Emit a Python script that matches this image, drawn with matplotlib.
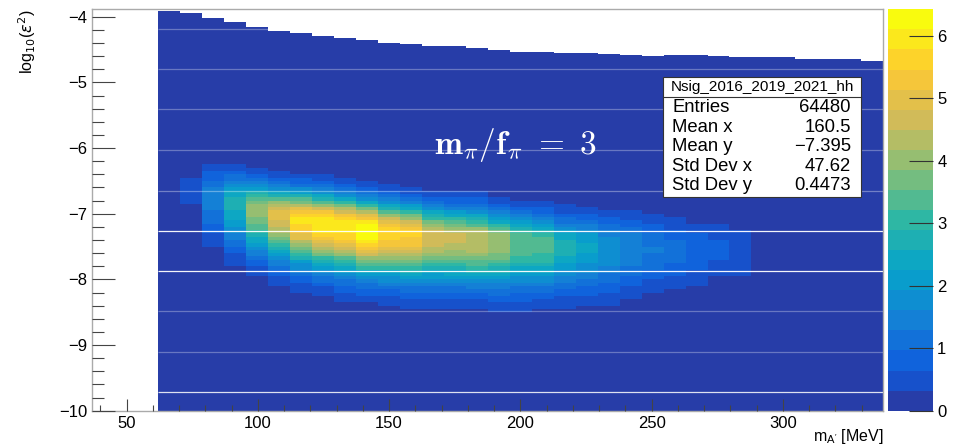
import numpy as np
import matplotlib
matplotlib.use('Agg')
import matplotlib.pyplot as plt
import matplotlib.cm as cm
from matplotlib.colors import ListedColormap, BoundaryNorm
from matplotlib.patches import Rectangle
from matplotlib.lines import Line2D
from matplotlib.ticker import MultipleLocator

plt.rcParams['font.family'] = ['Liberation Sans', 'DejaVu Sans']

# -------------------------------------------------------------
# binning of the histogram (36 x bins, first 3 empty)
# -------------------------------------------------------------
x_lo, x_hi = 36.9, 338.3
n_xbins = 36
first_filled = 3
y_lo, y_hi = -10.0, -3.887
y_step = 0.05

# upper edge of the filled region, one value per filled x bin
top_edge = [-3.91, -3.95, -4.02, -4.08, -4.16, -4.22, -4.25, -4.29, -4.33, -4.36,
            -4.40, -4.42, -4.44, -4.45, -4.48, -4.51, -4.53, -4.54, -4.56, -4.56,
            -4.57, -4.58, -4.60, -4.59, -4.59, -4.60, -4.61, -4.61, -4.62, -4.65,
            -4.64, -4.65, -4.68]

# signal blob, per filled x bin (index into the filled bins)
blob_cols = list(range(1, 27))
blob_upper = [-6.47, -6.23, -6.24, -6.29, -6.35, -6.38, -6.42, -6.45, -6.50, -6.56,
              -6.59, -6.64, -6.67, -6.66, -6.74, -6.79, -6.80, -6.87, -6.89, -6.94,
              -6.96, -7.02, -7.07, -7.14, -7.17, -7.26]
blob_peak_y = [-6.65, -6.75, -6.82, -6.95, -7.02, -7.10, -7.15, -7.18, -7.25, -7.28,
               -7.30, -7.35, -7.36, -7.40, -7.42, -7.45, -7.46, -7.50, -7.50, -7.52,
               -7.52, -7.53, -7.54, -7.55, -7.55, -7.58]
blob_lower = [-6.83, -7.52, -7.78, -7.96, -8.10, -8.19, -8.26, -8.34, -8.37, -8.41,
              -8.43, -8.43, -8.45, -8.47, -8.49, -8.49, -8.47, -8.43, -8.41, -8.38,
              -8.31, -8.19, -8.13, -8.08, -7.96, -7.96]
blob_peak = [0.55, 1.45, 2.7, 4.0, 4.9, 5.8, 6.1, 6.0, 6.35, 5.7,
             5.5, 4.8, 4.6, 4.5, 4.1, 3.5, 3.4, 2.7, 2.3, 1.9,
             1.6, 1.3, 1.1, 0.9, 0.7, 0.6]

z_max = 6.42
n_levels = 20

seam_y = [-4.19, -4.79, -5.41, -6.03, -6.65, -7.26, -7.87, -8.48, -9.10, -9.71]
seam_alpha = [0.3, 0.3, 0.3, 0.3, 0.35, 0.95, 0.95, 0.3, 0.3, 0.85]

stat_title = 'Nsig_2016_2019_2021_hh'
stat_labels = ['Entries', 'Mean x', 'Mean y', 'Std Dev x', 'Std Dev y']
stat_values = ['64480', '160.5', '\u22127.395', '47.62', '0.4473']

# -------------------------------------------------------------
# kBird palette, 20 contour levels like ROOT
# -------------------------------------------------------------
bird_stops = [0.0, 0.125, 0.25, 0.375, 0.5, 0.625, 0.75, 0.875, 1.0]
bird_r = [0.2082, 0.0592, 0.0780, 0.0232, 0.1802, 0.5301, 0.8186, 0.9956, 0.9764]
bird_g = [0.1664, 0.3599, 0.5041, 0.6419, 0.7178, 0.7492, 0.7328, 0.7862, 0.9832]
bird_b = [0.5293, 0.8684, 0.8385, 0.7914, 0.6425, 0.4662, 0.3499, 0.1968, 0.0539]

cores = []
for i in range(n_levels):
    f = min(int((i + 0.99) * 255 / n_levels), 254) / 254
    cores.append((np.interp(f, bird_stops, bird_r),
                  np.interp(f, bird_stops, bird_g),
                  np.interp(f, bird_stops, bird_b)))
cmap = ListedColormap(cores)
levels = np.linspace(0, z_max, n_levels + 1)
norm = BoundaryNorm(levels, cmap.N)
thr = levels[1]

# -------------------------------------------------------------
# build the cell grid
# -------------------------------------------------------------
x_edges = np.linspace(x_lo, x_hi, n_xbins + 1)[first_filled:]
n_y = int(round((-3.85 - y_lo) / y_step))
y_edges = y_lo + np.arange(n_y + 1) * y_step
y_cent = 0.5 * (y_edges[:-1] + y_edges[1:])

Z = np.full((n_y, len(top_edge)), np.nan)
for k, c in enumerate(blob_cols):
    yc, P = blob_peak_y[k], blob_peak[k]
    w = np.sqrt(2 * np.log(P / thr))
    s_up = (blob_upper[k] - yc) / w
    s_lo = (yc - blob_lower[k]) / w
    s = np.where(y_cent > yc, s_up, s_lo)
    Z[:, c] = P * np.exp(-0.5 * ((y_cent - yc) / s) ** 2)
Z = np.ma.masked_where(~(Z >= thr), Z)

# -------------------------------------------------------------
# figure
# -------------------------------------------------------------
W, H = 964, 447
fig = plt.figure(figsize=(W / 100, H / 100), dpi=100)
ax = fig.add_axes([92.3 / W, 1 - 410.7 / H, (883.3 - 92.3) / W, (410.7 - 9.3) / H])

ax.fill_between(x_edges, np.full(len(x_edges), y_lo), list(top_edge) + [top_edge[-1]],
                step='post', color=cores[0], lw=0, zorder=0.5)
ax.pcolormesh(x_edges, y_edges, Z, cmap=cmap, norm=norm, shading='flat',
              antialiased=False, zorder=0.6)

for ys, a in zip(seam_y, seam_alpha):
    k = 0
    while k < len(top_edge) and top_edge[k] > ys:
        k += 1
    ax.hlines(ys, x_edges[0], x_edges[k], colors='white', alpha=a, lw=0.9, zorder=0.7)

ax.text(198.2, -6.09, r'$\mathbf{m_{\pi}/f_{\pi}}\ \mathbf{=}\ \mathbf{3}$', color='white',
        fontsize=24, ha='center', va='baseline', math_fontfamily='cm', zorder=3)

ax.set_xlim(x_lo, x_hi)
ax.set_ylim(y_lo, y_hi)
ax.set_axisbelow(False)
ax.xaxis.set_major_locator(MultipleLocator(50))
ax.xaxis.set_minor_locator(MultipleLocator(10))
ax.yaxis.set_major_locator(MultipleLocator(1))
ax.yaxis.set_minor_locator(MultipleLocator(0.2))
ax.tick_params(axis='x', which='major', direction='in', length=8.6, width=0.8,
               color='#444444', labelsize=12, pad=4)
ax.tick_params(axis='x', which='minor', direction='in', length=4.3, width=0.8, color='#444444')
ax.tick_params(axis='y', which='major', direction='in', length=16.6, width=0.8,
               color='#444444', labelsize=12, pad=3.6)
ax.tick_params(axis='y', which='minor', direction='in', length=8.6, width=0.8, color='#444444')
for sp in ax.spines.values():
    sp.set_color('#aaaaaa')
    sp.set_linewidth(1.0)

fig.text(27 / W, 1 - 9.5 / H, r'log$_{10}$($\epsilon^{2}$)', rotation=90,
         ha='center', va='top', fontsize=11.5)
fig.text(883.3 / W, 1 - 441 / H, r"m$_{\mathregular{A'}}$ [MeV]", ha='right',
         va='baseline', fontsize=11.5)

# stats box
bx0, bx1, by0, by1 = 663.3, 861.0, 76.7, 196.7
fig.add_artist(Rectangle((bx0 / W, 1 - by1 / H), (bx1 - bx0) / W, (by1 - by0) / H,
                         transform=fig.transFigure, facecolor='white',
                         edgecolor='#333333', lw=0.8, zorder=5))
fig.add_artist(Line2D([bx0 / W, bx1 / W], [1 - 96.7 / H] * 2, transform=fig.transFigure,
                      color='#333333', lw=0.8, zorder=6))
fig.text(762 / W, 1 - 86.7 / H, stat_title, ha='center', va='center', fontsize=11, zorder=7)
stat_rows = [107.3, 127.3, 146.7, 166.7, 185.7]
for lab, val, yy in zip(stat_labels, stat_values, stat_rows):
    fig.text(672.3 / W, 1 - yy / H, lab, ha='left', va='center', fontsize=13.3, zorder=7)
    fig.text(851 / W, 1 - yy / H, val, ha='right', va='center', fontsize=13.3, zorder=7)

# palette
cax = fig.add_axes([888 / W, 1 - 410.7 / H, 45 / W, (410.7 - 9.3) / H])
sm = cm.ScalarMappable(norm=norm, cmap=cmap)
cb = fig.colorbar(sm, cax=cax, ticks=range(7))
cb.outline.set_visible(False)
cb.minorticks_off()
cax.tick_params(direction='in', length=17.3, width=0.8, color='#333333', labelsize=12, pad=3)

fig.savefig('out.png', dpi=100)
